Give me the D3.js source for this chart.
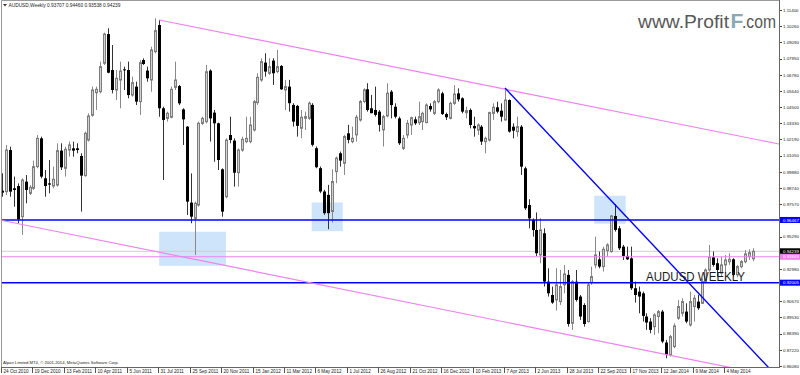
<!DOCTYPE html>
<html>
<head>
<meta charset="utf-8">
<script src="https://cdn.jsdelivr.net/npm/d3@7"></script>
<style>
  body { margin: 0; background: #fff; }
  svg { display: block; font-family: "Liberation Sans", Arial, sans-serif; }
</style>
</head>
<body>
<svg width="800" height="375"></svg>
<script>
// weekly AUDUSD bars, 24 Oct 2010 onwards
const open = [0.9855,0.9848,1.0144,0.9872,0.9888,0.9670,0.9919,0.9836,0.9872,1.0026,1.0227,0.9943,0.9907,0.9888,0.9895,1.0140,1.0014,1.0144,1.0156,1.0156,1.0102,0.9962,1.0215,1.0391,1.0552,1.0559,1.0761,1.0969,1.0713,1.0571,1.0642,1.0718,1.0713,1.0535,1.0595,1.0488,1.0784,1.0709,1.0642,1.0844,1.1033,1.0441,1.0369,1.0377,1.0590,1.0599,1.0433,1.0310,0.9770,0.9658,0.9753,1.0334,1.0346,1.0709,1.0410,1.0334,1.0007,0.9812,1.0251,1.0211,0.9983,1.0144,1.0204,1.0204,1.0287,1.0481,1.0642,1.0766,1.0690,1.0780,1.0702,1.0742,1.0572,1.0595,1.0465,1.0458,1.0299,1.0370,1.0370,1.0465,1.0157,1.0015,0.9849,0.9825,0.9707,0.9991,1.0121,1.0050,1.0263,1.0204,1.0252,1.0358,1.0489,1.0576,1.0441,1.0429,1.0417,1.0287,1.0387,1.0559,1.0452,1.0369,1.0156,1.0251,1.0322,1.0362,1.0339,1.0346,1.0339,1.0457,1.0405,1.0488,1.0547,1.0400,1.0369,1.0476,1.0547,1.0512,1.0410,1.0429,1.0315,1.0286,1.0310,1.0204,1.0215,1.0405,1.0448,1.0424,1.0358,1.0500,1.0310,1.0275,1.0310,1.0014,0.9753,0.9647,0.9575,0.9398,0.9552,0.9208,0.9113,0.9078,0.9066,0.9185,0.9256,0.8912,0.9208,0.9102,0.9042,0.8924,0.9201,0.9327,0.9367,0.9315,0.9429,0.9422,0.9675,0.9587,0.9457,0.9391,0.9374,0.9161,0.9137,0.9125,0.8960,0.8924,0.8888,0.8960,0.8995,0.8775,0.8687,0.8746,0.8948,0.8983,0.8995,0.8900,0.9031,0.9066,0.9054,0.9208,0.9291,0.9381,0.9339,0.9268,0.9327,0.9350,0.9367,0.9256,0.9315,0.9350,0.9386,0.9371];
const high = [0.9978,1.0180,1.0168,0.9955,0.9907,0.9943,0.9966,0.9895,1.0068,1.0251,1.0239,1.0002,1.0073,1.0026,1.0192,1.0192,1.0168,1.0204,1.0204,1.0192,1.0121,1.0275,1.0405,1.0595,1.0595,1.0773,1.0979,1.1010,1.0891,1.0713,1.0773,1.0737,1.0773,1.0666,1.0630,1.0784,1.0796,1.0737,1.0879,1.1081,1.1069,1.0452,1.0417,1.0595,1.0773,1.0607,1.0441,1.0315,0.9978,0.9777,1.0346,1.0381,1.0749,1.0718,1.0429,1.0339,1.0014,1.0227,1.0381,1.0227,1.0156,1.0239,1.0381,1.0381,1.0500,1.0690,1.0796,1.0832,1.0797,1.0797,1.0856,1.0749,1.0643,1.0643,1.0477,1.0465,1.0429,1.0417,1.0489,1.0477,1.0169,1.0027,0.9861,0.9896,1.0007,1.0098,1.0133,1.0252,1.0323,1.0311,1.0394,1.0500,1.0583,1.0619,1.0536,1.0595,1.0429,1.0394,1.0619,1.0571,1.0476,1.0381,1.0251,1.0358,1.0381,1.0381,1.0488,1.0417,1.0476,1.0476,1.0500,1.0583,1.0559,1.0410,1.0488,1.0606,1.0583,1.0519,1.0452,1.0440,1.0381,1.0334,1.0322,1.0239,1.0417,1.0476,1.0488,1.0476,1.0583,1.0504,1.0334,1.0381,1.0322,1.0026,0.9794,0.9658,0.9700,0.9659,0.9587,0.9303,0.9173,0.9303,0.9291,0.9327,0.9291,0.9220,0.9291,0.9113,0.9054,0.9197,0.9315,0.9528,0.9422,0.9457,0.9481,0.9682,0.9760,0.9604,0.9469,0.9457,0.9457,0.9208,0.9173,0.9137,0.8983,0.8948,0.8983,0.9007,0.9007,0.8794,0.8829,0.8912,0.9078,0.9090,0.9054,0.9137,0.9114,0.9114,0.9232,0.9303,0.9469,0.9422,0.9374,0.9386,0.9398,0.9410,0.9374,0.9327,0.9362,0.9433,0.9438,0.9446];
const low = [0.9812,0.9824,0.9812,0.9741,0.9623,0.9540,0.9765,0.9824,0.9860,1.0014,0.9943,0.9812,0.9836,0.9872,0.9884,1.0002,0.9955,1.0097,1.0097,1.0121,0.9706,0.9955,1.0204,1.0381,1.0429,1.0547,1.0749,1.0690,1.0547,1.0500,1.0441,1.0571,1.0512,1.0524,1.0464,1.0393,1.0749,1.0630,1.0559,1.0832,1.0381,0.9931,1.0346,1.0369,1.0571,1.0464,1.0180,0.9682,0.9623,0.9397,0.9741,1.0322,1.0334,1.0204,1.0061,1.0002,0.9670,0.9801,1.0192,0.9884,0.9884,1.0132,1.0192,1.0192,1.0275,1.0464,1.0630,1.0666,1.0678,1.0607,1.0690,1.0572,1.0429,1.0417,1.0311,1.0240,1.0228,1.0287,1.0358,1.0169,1.0015,0.9837,0.9683,0.9581,0.9628,0.9908,1.0026,0.9967,1.0192,1.0192,1.0204,1.0346,1.0477,1.0417,1.0406,1.0382,1.0275,1.0169,1.0377,1.0369,1.0369,1.0180,1.0144,1.0227,1.0251,1.0322,1.0322,1.0286,1.0334,1.0417,1.0393,1.0476,1.0393,1.0358,1.0362,1.0464,1.0488,1.0405,1.0369,1.0298,1.0239,1.0251,1.0180,1.0121,1.0204,1.0358,1.0405,1.0346,1.0353,1.0268,1.0227,1.0239,0.9967,0.9718,0.9587,0.9528,0.9390,0.9339,0.9173,0.9102,0.9050,0.9002,0.9042,0.9125,0.8888,0.8865,0.9066,0.8936,0.8888,0.8917,0.9185,0.9303,0.9303,0.9280,0.9386,0.9414,0.9564,0.9433,0.9362,0.9362,0.9149,0.9059,0.8983,0.8924,0.8865,0.8841,0.8829,0.8841,0.8770,0.8663,0.8675,0.8734,0.8936,0.8960,0.8912,0.8888,0.8924,0.9007,0.9050,0.9197,0.9279,0.9315,0.9244,0.9244,0.9268,0.9327,0.9244,0.9239,0.9303,0.9339,0.9362,0.9354];
const close = [0.9841,1.0144,0.9848,0.9860,0.9651,0.9931,0.9860,0.9879,1.0026,1.0227,0.9955,0.9888,0.9898,0.9936,1.0140,1.0021,1.0149,1.0180,1.0140,1.0144,0.9962,1.0263,1.0386,1.0571,1.0576,1.0737,1.0969,1.0694,1.0571,1.0654,1.0706,1.0713,1.0535,1.0623,1.0488,1.0765,1.0756,1.0654,1.0856,1.0993,1.0441,1.0358,1.0405,1.0576,1.0642,1.0476,1.0362,0.9777,0.9670,0.9765,1.0334,1.0369,1.0701,1.0369,1.0334,1.0073,0.9706,1.0215,1.0215,0.9983,1.0144,1.0220,1.0227,1.0322,1.0488,1.0661,1.0773,1.0702,1.0737,1.0690,1.0737,1.0576,1.0595,1.0477,1.0346,1.0316,1.0377,1.0382,1.0477,1.0181,1.0022,0.9849,0.9695,0.9695,0.9920,1.0086,1.0069,1.0240,1.0216,1.0228,1.0377,1.0489,1.0572,1.0429,1.0406,1.0394,1.0323,1.0382,1.0548,1.0464,1.0381,1.0192,1.0227,1.0334,1.0374,1.0334,1.0381,1.0405,1.0464,1.0433,1.0488,1.0571,1.0400,1.0377,1.0476,1.0542,1.0504,1.0417,1.0424,1.0322,1.0298,1.0322,1.0204,1.0227,1.0410,1.0448,1.0417,1.0381,1.0500,1.0275,1.0282,1.0310,1.0026,0.9730,0.9658,0.9575,0.9410,0.9576,0.9208,0.9125,0.9059,0.9185,0.9173,0.9263,0.8907,0.9208,0.9078,0.8960,0.8907,0.9185,0.9244,0.9398,0.9315,0.9438,0.9469,0.9675,0.9576,0.9445,0.9391,0.9367,0.9161,0.9113,0.9102,0.8964,0.8917,0.8865,0.8971,0.8995,0.8782,0.8687,0.8817,0.8893,0.9031,0.9066,0.8924,0.9066,0.9090,0.9019,0.9208,0.9291,0.9381,0.9327,0.9291,0.9327,0.9362,0.9367,0.9256,0.9315,0.9350,0.9405,0.9414,0.9424];

const dateLabels = ["24 Oct 2010","19 Dec 2010","13 Feb 2011","10 Apr 2011","5 Jun 2011","31 Jul 2011","25 Sep 2011","20 Nov 2011","15 Jan 2012","11 Mar 2012","6 May 2012","1 Jul 2012","26 Aug 2012","21 Oct 2012","16 Dec 2012","10 Feb 2013","7 Apr 2013","2 Jun 2013","28 Jul 2013","22 Sep 2013","17 Nov 2013","12 Jan 2014","9 Mar 2014","4 May 2014"];
const priceTicks = [1.114,1.1026,1.0909,1.0795,1.0678,1.0564,1.045,1.0333,1.0219,1.0105,0.9988,0.9874,0.9757,0.9529,0.9298,0.9067,0.8953,0.8839,0.8722,0.8608];

const blueLevels = [0.96467, 0.92005];
const pinkLevel = 0.93849;
const bid = 0.94239;

// trendlines: [bar index, price] anchor pairs, drawn as rays to the right
const channelTop = [[40, 1.1069], [197.7, 1.0187]];
const channelBottom = [[-0.5, 0.9646], [184.7, 0.8601]];
const downTrend = [[128, 1.0585], [194.7, 0.8608]];
// highlighted zones: [from bar, to bar, top price, bottom price]
const zones = [[40, 57, 0.9563, 0.9321], [78.8, 86.7, 0.9771, 0.9567], [150.7, 158.7, 0.9819, 0.9620]];

const svg = d3.select("svg"),
  plotRight = 779,
  plotBottom = 367,
  fmt = d3.format(".5f");

const x = d3.scaleLinear().domain([0, 191]).range([2, 752.6]);
const y = d3.scaleLinear().domain([0.86009, 1.1204]).range([plotBottom, 1]);

svg.append("clipPath").attr("id", "plot")
  .append("rect").attr("x", 1).attr("y", 1).attr("width", plotRight - 1).attr("height", plotBottom - 1);

const plot = svg.append("g").attr("clip-path", "url(#plot)");

// zones sit behind everything
plot.selectAll("rect.zone")
  .data(zones)
  .enter()
  .append("rect")
  .attr("class", "zone")
  .attr("x", d => x(d[0]))
  .attr("width", d => x(d[1]) - x(d[0]))
  .attr("y", d => y(d[2]))
  .attr("height", d => y(d[3]) - y(d[2]))
  .attr("fill", "#cde4fb");

// bid line
plot.append("line")
  .attr("x1", 0).attr("x2", plotRight)
  .attr("y1", y(bid)).attr("y2", y(bid))
  .attr("stroke", "#cfcfcf").attr("stroke-width", 1);

// candles
const bars = plot.selectAll("g.bar")
  .data(d3.range(open.length))
  .enter()
  .append("g")
  .attr("class", "bar");

bars.append("line")
  .attr("x1", i => Math.round(x(i)) + 0.5)
  .attr("x2", i => Math.round(x(i)) + 0.5)
  .attr("y1", i => y(high[i]))
  .attr("y2", i => y(low[i]))
  .attr("stroke", i => close[i] >= open[i] ? "#8a8a8a" : "#333")
  .attr("stroke-width", 1);

bars.append("rect")
  .attr("x", i => close[i] >= open[i] ? Math.round(x(i)) - 0.5 : Math.round(x(i)) - 1)
  .attr("width", i => close[i] >= open[i] ? 2 : 3)
  .attr("y", i => y(Math.max(open[i], close[i])))
  .attr("height", i => Math.max(1, Math.abs(y(open[i]) - y(close[i]))))
  .attr("fill", i => close[i] >= open[i] ? "#d2d2d2" : "#000")
  .attr("stroke", i => close[i] >= open[i] ? "#7c7c7c" : "none")
  .attr("stroke-width", 1);

// horizontal levels
plot.selectAll("line.level")
  .data(blueLevels)
  .enter()
  .append("line")
  .attr("class", "level")
  .attr("x1", 0).attr("x2", plotRight)
  .attr("y1", d => y(d)).attr("y2", d => y(d))
  .attr("stroke", "#0000ff").attr("stroke-width", 1.4);

plot.append("line")
  .attr("x1", 0).attr("x2", plotRight)
  .attr("y1", y(pinkLevel)).attr("y2", y(pinkLevel))
  .attr("stroke", "violet").attr("stroke-width", 1.2);

// trendline rays
function ray(p) {
  const slope = (p[1][1] - p[0][1]) / (p[1][0] - p[0][0]);
  const end = 230;
  return [[x(p[0][0]), y(p[0][1])], [x(end), y(p[0][1] + slope * (end - p[0][0]))]];
}

[[channelTop, "violet", 1.2], [channelBottom, "violet", 1.2], [downTrend, "#0000ff", 1.4]].forEach(function (t) {
  plot.append("path")
    .attr("d", d3.line()(ray(t[0])))
    .attr("fill", "none")
    .attr("stroke", t[1])
    .attr("stroke-width", t[2]);
});

// frame
svg.append("path")
  .attr("d", "M1.5," + plotBottom + ".5V0.5H" + plotRight + ".5")
  .attr("fill", "none").attr("stroke", "#9a9a9a");
svg.append("line")
  .attr("x1", 1).attr("x2", plotRight + 1)
  .attr("y1", plotBottom + 0.5).attr("y2", plotBottom + 0.5)
  .attr("stroke", "#666");
svg.append("line")
  .attr("x1", plotRight + 0.5).attr("x2", plotRight + 0.5)
  .attr("y1", 0).attr("y2", plotBottom + 1)
  .attr("stroke", "#666");

// price axis
const yAxis = svg.append("g").attr("font-size", 4.4).attr("fill", "#222");
priceTicks.forEach(function (p) {
  yAxis.append("line")
    .attr("x1", plotRight + 1).attr("x2", plotRight + 3)
    .attr("y1", Math.round(y(p)) + 0.5).attr("y2", Math.round(y(p)) + 0.5)
    .attr("stroke", "#444");
  yAxis.append("text")
    .attr("x", plotRight + 4)
    .attr("y", y(p) + 1.6)
    .text(fmt(p));
});

[[blueLevels[0], "#0000ff"], [bid, "#000"], [pinkLevel, "violet"], [blueLevels[1], "#0000ff"]].forEach(function (b) {
  yAxis.append("rect")
    .attr("x", plotRight + 1).attr("width", 20)
    .attr("y", y(b[0]) - 3).attr("height", 6)
    .attr("fill", b[1]);
  yAxis.append("text")
    .attr("x", plotRight + 4)
    .attr("y", y(b[0]) + 1.6)
    .attr("fill", "#fff")
    .text(fmt(b[0]));
});

// time axis
const xAxis = svg.append("g").attr("font-size", 4.6).attr("fill", "#222");
dateLabels.forEach(function (d, k) {
  const px = Math.round(x(k * 8)) - 0.5;
  xAxis.append("line")
    .attr("x1", px).attr("x2", px)
    .attr("y1", plotBottom).attr("y2", plotBottom + 6)
    .attr("stroke", "#555");
  xAxis.append("text")
    .attr("x", px + 2)
    .attr("y", plotBottom + 6)
    .text(d);
});

// header and credits
svg.append("path").attr("d", "M3,4H7L5,6.5Z").attr("fill", "#333");
svg.append("text")
  .attr("x", 8.5).attr("y", 7)
  .attr("font-size", 4.8).attr("fill", "#222")
  .text("AUDUSD,Weekly  " + [0.93707, 0.94460, 0.93538, 0.94239].map(fmt).join(" "));
svg.append("text")
  .attr("x", 3).attr("y", 364)
  .attr("font-size", 4.2).attr("fill", "#222")
  .text("Alpari Limited MT4, \u00a9 2001-2014, MetaQuotes Software Corp.");

svg.append("text")
  .attr("x", 646).attr("y", 281)
  .attr("font-size", 12.5).attr("fill", "#1a1a1a")
  .attr("textLength", 99).attr("lengthAdjust", "spacingAndGlyphs")
  .text("AUDUSD WEEKLY");

// watermark
const wm = svg.append("g").attr("font-size", 18.5).attr("fill", "#585858");
wm.append("text").attr("x", 638).attr("y", 27.5)
  .attr("textLength", 91).attr("lengthAdjust", "spacingAndGlyphs")
  .text("www.Profit");
wm.append("text").attr("x", 730.5).attr("y", 28)
  .attr("font-size", 21).attr("font-weight", "bold").attr("fill", "#8aa9b1")
  .text("F");
wm.append("text").attr("x", 742).attr("y", 27.5)
  .attr("textLength", 34).attr("lengthAdjust", "spacingAndGlyphs")
  .text(".com");
</script>
</body>
</html>
